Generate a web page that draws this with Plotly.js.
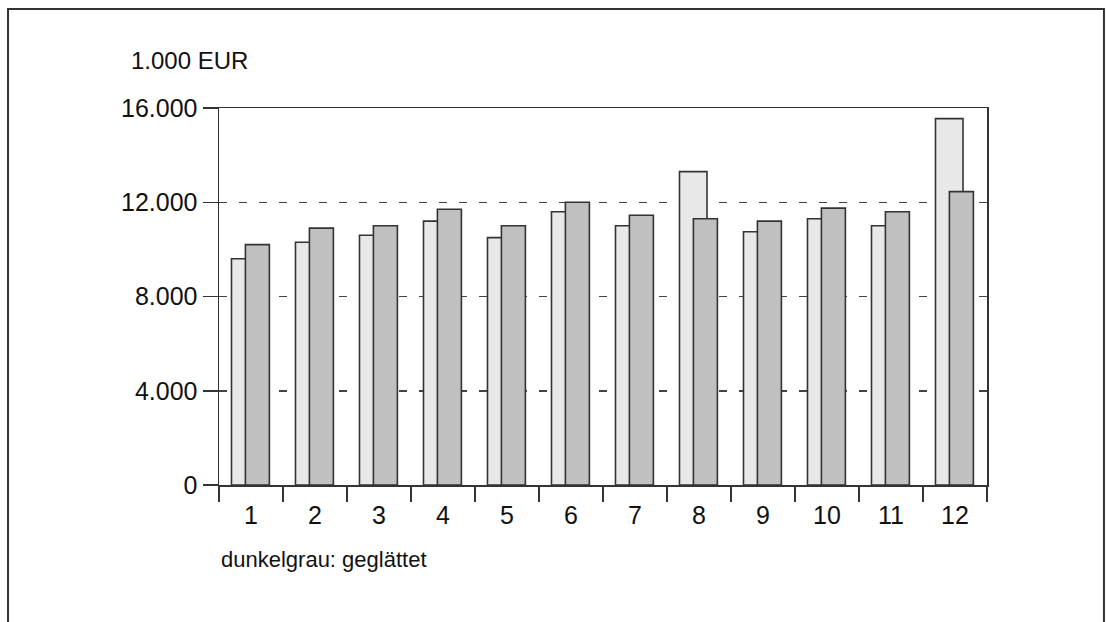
<!DOCTYPE html>
<html>
<head>
<meta charset="utf-8">
<script src="https://cdn.plot.ly/plotly-3.0.1.min.js"></script>
<style>
  html, body { margin: 0; padding: 0; background: #fff; }
  #chart { width: 1106px; height: 622px; }
</style>
</head>
<body>
<div id="chart"></div>
<script>
const categories = ["1","2","3","4","5","6","7","8","9","10","11","12"];
const rawValues = [9600, 10300, 10600, 11200, 10500, 11600, 11000, 13300, 10750, 11300, 11000, 15550];
const smoothedValues = [10200, 10900, 11000, 11700, 11000, 12000, 11450, 11300, 11200, 11750, 11600, 12450];
const yTickVals = [0, 4000, 8000, 12000, 16000];
const yTickText = ["0", "4.000", "8.000", "12.000", "16.000"];
const unitLabel = "1.000 EUR";
const noteLabel = "dunkelgrau: geglättet";

const FONT = "'Liberation Sans Narrow', 'Arial Narrow', 'Liberation Sans', Arial, sans-serif";
const INK = "#111111";

const traces = [
  {
    type: "bar", x: categories, y: rawValues, name: "Ist",
    width: 0.43, offset: -0.305,
    marker: { color: "#e8e8e8", line: { color: "#333333", width: 1.6 } },
    hoverinfo: "x+y"
  },
  {
    type: "bar", x: categories, y: smoothedValues, name: "geglättet",
    width: 0.375, offset: -0.0875,
    marker: { color: "#c0c0c0", line: { color: "#333333", width: 1.6 } },
    hoverinfo: "x+y"
  }
];

const layout = {
  width: 1106, height: 622,
  margin: { l: 219, r: 119, t: 108, b: 137 },
  paper_bgcolor: "#ffffff", plot_bgcolor: "#ffffff",
  barmode: "overlay",
  showlegend: false,
  font: { family: FONT, color: INK, size: 25 },
  xaxis: {
    type: "category",
    tickson: "boundaries",
    ticks: "outside", ticklen: 15, tickwidth: 1.5, tickcolor: "#333333",
    ticklabelstandoff: 7,
    showline: true, linecolor: "#333333", linewidth: 1.5, mirror: true,
    showgrid: false, zeroline: false,
    tickfont: { family: FONT, size: 25, color: INK },
    fixedrange: true
  },
  yaxis: {
    range: [0, 16000],
    tickvals: yTickVals, ticktext: yTickText,
    ticks: "outside", ticklen: 15, tickwidth: 1.5, tickcolor: "#333333",
    showline: true, linecolor: "#333333", linewidth: 1.5, mirror: true,
    showgrid: true, gridcolor: "#444444", gridwidth: 1.5, griddash: "8px,12px",
    zeroline: false,
    tickfont: { family: FONT, size: 25, color: INK },
    fixedrange: true
  },
  yaxis2: {
    overlaying: "y", side: "right", range: [0, 16000],
    tickvals: yTickVals, ticks: "inside", ticklen: 4, tickwidth: 1.5, tickcolor: "#333333",
    showticklabels: false, showgrid: false, zeroline: false, showline: false,
    fixedrange: true
  },
  annotations: [
    { text: unitLabel, xref: "paper", yref: "paper", x: -0.1175, y: 1.127,
      xanchor: "left", yanchor: "middle", showarrow: false,
      font: { family: FONT, size: 24, color: INK } },
    { text: noteLabel, xref: "paper", yref: "paper", x: 0.0, y: -0.1979,
      xanchor: "left", yanchor: "middle", showarrow: false,
      font: { family: FONT, size: 22, color: INK } }
  ],
  shapes: [
    { type: "rect", xref: "paper", yref: "paper",
      x0: -0.2747, x1: 1.1523, y0: -0.45, y1: 1.2626,
      line: { color: "#333333", width: 2 }, fillcolor: "rgba(0,0,0,0)", layer: "below" }
  ]
};

Plotly.newPlot("chart", traces, layout, { displayModeBar: false, staticPlot: true });
</script>
</body>
</html>
